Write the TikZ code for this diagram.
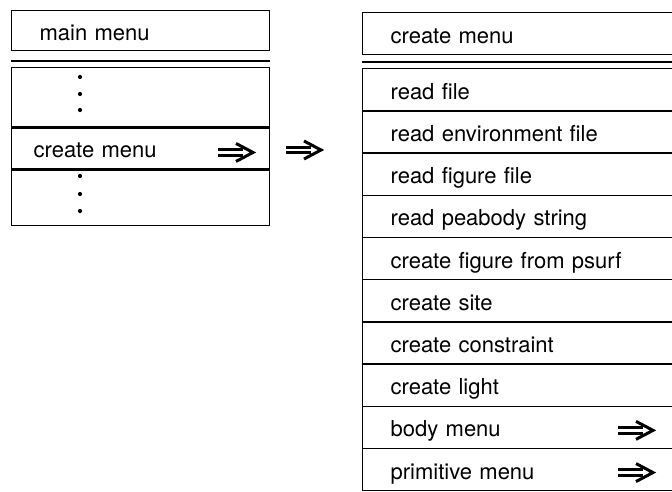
\documentclass[tikz,border=0pt]{standalone}
\usepackage{fontspec}
\setmainfont{TeX Gyre Heros}
\usetikzlibrary{positioning}

\tikzset{
  menurow/.style={draw, line width=1.3pt, rectangle, anchor=north west, inner ysep=0pt,
    align=left, text height=20pt, text depth=1pt, font=\fontsize{22}{25}\selectfont},
  lrow/.style={menurow, inner xsep=22pt, text width=214pt},
  rrow/.style={menurow, inner xsep=28pt, text width=274pt, minimum height=42.2pt},
  sepline/.style={line width=2.2pt},
  dblarrow/.pic={
    \draw[line width=3pt] (0,-2.8) -- (25,-2.8) (0,2.8) -- (25,2.8);
    \draw[line width=3pt, line join=miter] (18,-9) -- (35,0) -- (18,9);
  }
}

\begin{document}
\begin{tikzpicture}[x=1pt,y=1pt,yscale=-1,xscale=1]

\clip (0,0) rectangle (672,491);

% left menu
\node[lrow, inner xsep=28pt, text width=202pt, minimum height=40pt] (lmain) at (11,10) {main menu};
\draw[sepline] ([yshift=10pt]lmain.south west) -- ([yshift=10pt]lmain.south east);
\node[lrow, minimum height=59pt] (ldots1) at (11,67) {};
\node[lrow, minimum height=41pt] (lcreate) at (ldots1.south west) {create menu};
\node[lrow, minimum height=55pt] (ldots2) at (lcreate.south west) {};
\foreach \y in {77,94,110,176,194,211}
  \fill (80,\y) circle (2.1pt);
\pic at ([xshift=207pt,yshift=4pt]lcreate.west) {dblarrow};

\pic at (286,150) {dblarrow};

% right menu
\node[rrow, minimum height=42pt] (rtitle) at (362,12) {create menu};
\draw[sepline] ([yshift=7pt]rtitle.south west) -- ([yshift=7pt]rtitle.south east);
\foreach \txt [count=\i] in {read file, read environment file, read figure file,
    read peabody string, create figure from psurf, create site, create constraint,
    create light, body menu, primitive menu}
  \node[rrow] (r\i) at (362,{68+42.2*(\i-1)}) {\txt};
\pic at ([xshift=256pt,yshift=3pt]r9.west) {dblarrow};
\pic at ([xshift=256pt,yshift=3pt]r10.west) {dblarrow};

\end{tikzpicture}
\end{document}
